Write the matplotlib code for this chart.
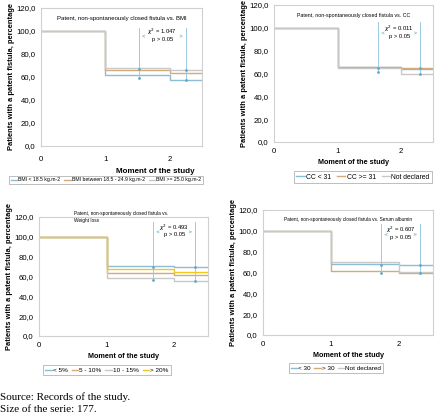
import numpy as np
import matplotlib
matplotlib.use('Agg')
import matplotlib.pyplot as plt
from matplotlib.ticker import FuncFormatter

plt.rcParams['font.family'] = ['Liberation Sans', 'DejaVu Sans']

# moments of the study (step points) and survival percentages per group
moments = [0, 1, 2, 2.5]

bmi_labels = ['BMI < 18.5 kg.m-2', 'BMI between 18.5 - 24.9 kg.m-2', 'BMI >= 25.0 kg.m-2']
bmi_values = [[100, 61.5, 57.5], [100, 66.0, 63.5], [100, 67.5, 66.0]]

cc_labels = ['CC < 31', 'CC >= 31', 'Not declared']
cc_values = [[100, 65.5, 64.0], [100, 66.0, 64.5], [100, 65.0, 59.5]]

wl_labels = ['< 5%', '5 - 10%', '10 - 15%', '> 20%']
wl_values = [[100, 71.0, 69.5], [100, 63.5, 61.5], [100, 58.0, 55.5], [100, 67.5, 64.5]]

alb_labels = ['< 30', '> 30', 'Not declared']
alb_values = [[100, 68.5, 67.0], [100, 61.0, 59.5], [100, 70.0, 60.5]]

chi_texts = ['1.047', '0.011', '0.493', '0.607']

BLUE = '#8cbcd6'
ORANGE = '#d6aa78'
GRAY = '#c8c8c8'
YELLOW = '#f2c81e'
ANN = '#9ccbe0'

W, H = 440, 418
fig = plt.figure(figsize=(W / 100, H / 100), dpi=100)


def px_axes(left, top, right, bottom):
    return fig.add_axes([left / W, 1 - bottom / H, (right - left) / W, (bottom - top) / H])


def draw_panel(ax, values, colors, title, chi, xa, xb, ytop, lbl_size, title_fs,
               title_x=1.25, title_ha='center', title_y=113, ann_y=95.5):
    for vals, c in zip(values, colors):
        ax.step(moments, vals + [vals[-1]], where='post', color=c, lw=1.0)
    ax.set_xlim(0, 2.5)
    ax.set_ylim(0, 120)
    ax.set_xticks([0, 1, 2])
    ax.set_yticks(np.arange(0, 121, 20))
    ax.yaxis.set_major_formatter(FuncFormatter(lambda v, p: f'{v:.1f}'.replace('.', ',')))
    ax.tick_params(labelsize=5.6, length=0, pad=4)
    for s in ax.spines.values():
        s.set_color('#d0d0d0')
        s.set_linewidth(0.8)
    ax.text(title_x, title_y, title, ha=title_ha, va='top', fontsize=title_fs, linespacing=1.5)
    ax.set_xlabel('Moment of the study', fontsize=lbl_size, fontweight='bold', labelpad=3)
    ax.set_ylabel('Patients with a patent fistula, percentage', fontsize=5.4,
                  fontweight='bold', labelpad=1)
    # chi-square annotation
    for x in (xa, xb):
        lows = [np.interp(x, [1, 2], [v[1], v[2]]) if x < 2 else v[2] for v in values]
        ax.plot([x, x], [min(lows), ytop], color=ANN, lw=0.7)
        ax.plot([x, x], [min(lows), max(lows)], ls='none', marker='.', ms=2, color='#5fa8cc')
    mid = (xa + xb) / 2
    ax.annotate('', xy=(xa, ann_y), xytext=(xa + 0.12, ann_y),
                arrowprops=dict(arrowstyle='->', color=ANN, lw=0.6, mutation_scale=4))
    ax.annotate('', xy=(xb, ann_y), xytext=(xb - 0.12, ann_y),
                arrowprops=dict(arrowstyle='->', color=ANN, lw=0.6, mutation_scale=4))
    ax.text(mid, ann_y + 4, f'$\\chi^2$ = {chi}', ha='center', va='center', fontsize=4.2)
    ax.text(mid, ann_y - 3, 'p > 0.05', ha='center', va='center', fontsize=4.2)


def px_legend(handles, labels, cx, cy, ncol, fs, hl=1.0, cs=0.6):
    leg = fig.legend(handles, labels, loc='center', bbox_to_anchor=(cx / W, 1 - cy / H),
                     ncol=ncol, fontsize=fs, frameon=True, fancybox=False,
                     handlelength=hl, handletextpad=0.2, columnspacing=cs,
                     borderpad=0.35, borderaxespad=0)
    leg.get_frame().set_edgecolor('#a0a0a0')
    leg.get_frame().set_linewidth(0.6)


# panel 1: BMI
ax1 = px_axes(41, 8, 202, 146)
draw_panel(ax1, bmi_values, [BLUE, ORANGE, GRAY],
           'Patent, non-spontaneously closed fistula vs. BMI', chi_texts[0], 1.52, 2.25, 103,
           5.8, 4.3)
ax1.tick_params(axis='x', pad=7)
px_legend(ax1.get_lines()[:3], bmi_labels, 106, 180, 3, 3.7, hl=1.3, cs=0.7)
ax1.xaxis.set_label_coords(0.71, -0.16)

# panel 2: CC
ax2 = px_axes(274, 5, 433, 142)
draw_panel(ax2, cc_values, [BLUE, ORANGE, GRAY],
           'Patent, non-spontaneously closed fistula vs. CC', chi_texts[1], 1.64, 2.30, 105,
           5.2, 3.8)
px_legend(ax2.get_lines()[:3], cc_labels, 363, 177, 3, 4.9, hl=1.2, cs=0.9)

# panel 3: weight loss
ax3 = px_axes(39, 217, 208, 336)
draw_panel(ax3, wl_values, [BLUE, ORANGE, GRAY, YELLOW],
           'Patent, non-spontaneously closed fistula vs.\nWeight loss', chi_texts[2], 1.69, 2.31,
           115, 5.2, 3.4, title_x=0.52, title_ha='left', title_y=126, ann_y=105)
px_legend(ax3.get_lines()[:4], wl_labels, 107, 370, 4, 4.6, hl=1.0, cs=0.6)

# panel 4: serum albumin
ax4 = px_axes(263, 210, 433, 335)
draw_panel(ax4, alb_values, [BLUE, ORANGE, GRAY],
           'Patent, non-spontaneously closed fistula vs. Serum albumin', chi_texts[3], 1.74, 2.31,
           107, 5.2, 3.4, ann_y=96.5)
px_legend(ax4.get_lines()[:3], alb_labels, 336, 368, 3, 4.6, hl=1.0, cs=0.5)

fig.text(0.0, 1 - 397 / H, 'Source: Records of the study.', fontsize=8,
         family='Liberation Serif', va='center')
fig.text(0.0, 1 - 410 / H, 'Size of the serie: 177.', fontsize=8,
         family='Liberation Serif', va='center')

fig.savefig('out.png', dpi=100)
